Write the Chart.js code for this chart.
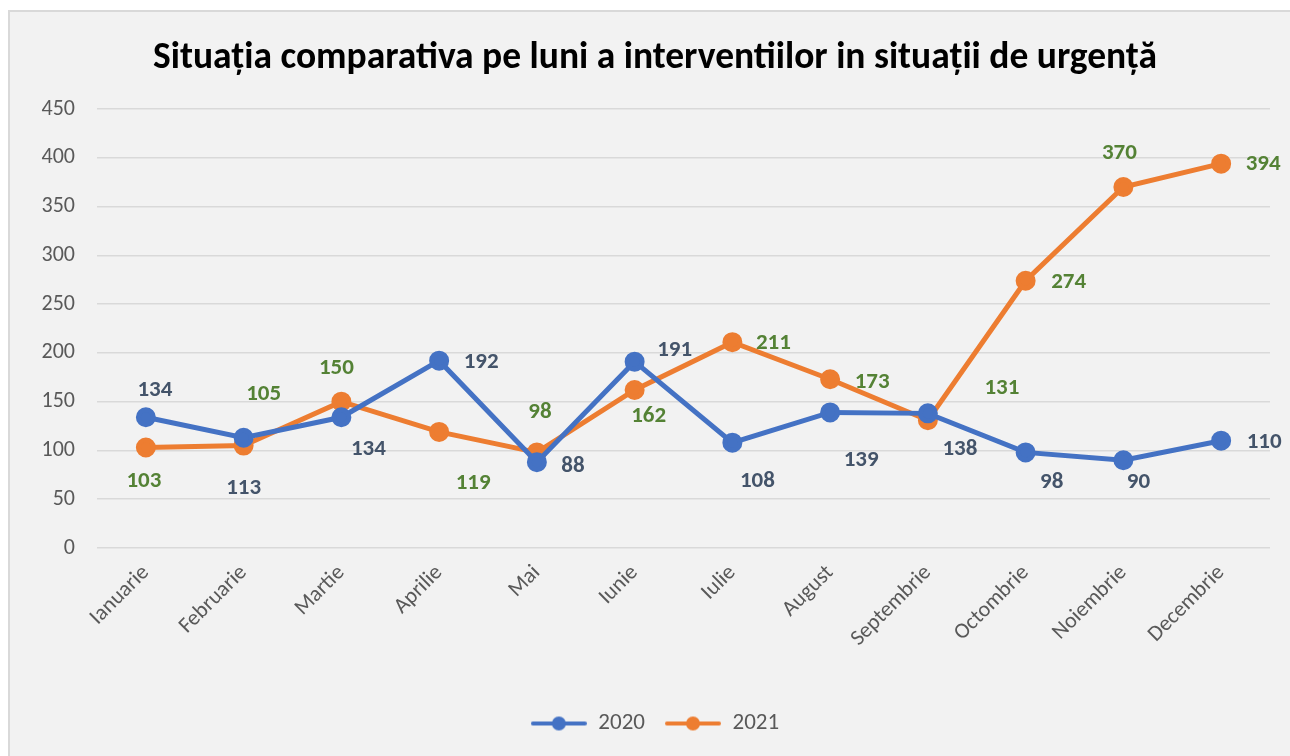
<!DOCTYPE html>
<html>
<head>
<meta charset="utf-8">
<script src="https://cdn.jsdelivr.net/npm/chart.js@4"></script>
<style>
  body { margin: 0; background: #fff; overflow: hidden; }
  #frame {
    position: absolute; left: 8px; top: 10px; width: 1290px; height: 760px;
    background: #F2F2F2; border-left: 2px solid #D9D9D9; border-top: 2px solid #D9D9D9;
  }
  #wrap { position: absolute; left: 0; top: 0; width: 1280px; height: 744px; }
</style>
</head>
<body>
<div id="frame"><div id="wrap"><canvas id="chart"></canvas></div></div>
<script>
const months = ['Ianuarie', 'Februarie', 'Martie', 'Aprilie', 'Mai', 'Iunie', 'Iulie',
                'August', 'Septembrie', 'Octombrie', 'Noiembrie', 'Decembrie'];
const values2020 = [134, 113, 134, 192, 88, 191, 108, 139, 138, 98, 90, 110];
const values2021 = [103, 105, 150, 119, 98, 162, 211, 173, 131, 274, 370, 394];

// where each value label sits relative to its point (dx, dy)
const offsets2020 = [[9,-27],[0,50],[27,32],[42,2],[36,4],[40,-11],[25,39],[31,48],[32,36],[26,30],[15,22],[43,2]];
const offsets2021 = [[-2,34],[20,-51],[-5,-33],[34,51],[3,-40],[14,26],[41,1],[42,3],[74,-32],[43,2],[-4,-34],[42,1]];

const FONT = "Carlito, Lato, 'Noto Sans', sans-serif";

function legendMarker(color)
{
    const c = document.createElement('canvas');
    c.width = 56;
    c.height = 16;
    const g = c.getContext('2d');
    g.strokeStyle = color;
    g.lineWidth = 4;
    g.lineCap = 'round';
    g.beginPath();
    g.moveTo(2, 8);
    g.lineTo(54, 8);
    g.stroke();
    g.fillStyle = color;
    g.beginPath();
    g.arc(28, 8, 7, 0, Math.PI * 2);
    g.fill();
    return c;
}

const valueLabels = {
    id: 'valueLabels',
    afterDatasetsDraw(chart) {
        const ctx = chart.ctx;
        ctx.save();
        ctx.font = 'bold 23px ' + FONT;
        ctx.textAlign = 'center';
        ctx.textBaseline = 'middle';
        chart.data.datasets.forEach((ds, i) => {
            const meta = chart.getDatasetMeta(i);
            ctx.fillStyle = ds.labelColor;
            meta.data.forEach((pt, j) => {
                const off = ds.labelOffsets[j];
                ctx.fillText(ds.data[j], pt.x + off[0], pt.y + off[1]);
            });
        });
        ctx.restore();
    }
};

const ctx = document.getElementById('chart');

new Chart(ctx, {
    type: 'line',
    data: {
        labels: months,
        datasets: [{
            label: '2020',
            data: values2020,
            borderColor: '#4472C4',
            backgroundColor: '#4472C4',
            borderWidth: 5,
            pointRadius: 7.5,
            pointHoverRadius: 7.5,
            labelColor: '#44546A',
            labelOffsets: offsets2020
        }, {
            label: '2021',
            data: values2021,
            borderColor: '#ED7D31',
            backgroundColor: '#ED7D31',
            borderWidth: 5,
            pointRadius: 7.5,
            pointHoverRadius: 7.5,
            labelColor: '#548235',
            labelOffsets: offsets2021
        }]
    },
    options: {
        responsive: true,
        maintainAspectRatio: false,
        animation: false,
        layout: { padding: { left: 30, right: 20, top: 0, bottom: 11 } },
        scales: {
            x: {
                offset: true,
                grid: { display: false, drawTicks: false },
                border: { display: false },
                ticks: {
                    minRotation: 45,
                    maxRotation: 45,
                    padding: 12,
                    color: '#595959',
                    font: { family: FONT, size: 22 }
                },
                afterFit: scale => { scale.height = 144; }
            },
            y: {
                min: 0,
                max: 450,
                grid: { color: '#D9D9D9', lineWidth: 1.5, drawTicks: false },
                border: { display: false },
                ticks: {
                    stepSize: 50,
                    padding: 22,
                    color: '#595959',
                    font: { family: FONT, size: 22 }
                },
                afterFit: scale => { scale.width = 57; }
            }
        },
        plugins: {
            title: {
                display: true,
                text: 'Situația comparativa pe luni a interventiilor in situații de urgență',
                color: '#000000',
                font: { family: FONT, size: 37.5, weight: 'bold' },
                padding: { top: 24, bottom: 28 }
            },
            legend: {
                position: 'bottom',
                labels: {
                    usePointStyle: true,
                    pointStyleWidth: 56,
                    padding: 20,
                    color: '#595959',
                    font: { family: FONT, size: 23 },
                    generateLabels: chart => {
                        const items = Chart.defaults.plugins.legend.labels.generateLabels(chart);
                        items.forEach(it => {
                            it.pointStyle = legendMarker(chart.data.datasets[it.datasetIndex].borderColor);
                        });
                        return items;
                    }
                }
            },
            tooltip: { enabled: false }
        }
    },
    plugins: [valueLabels]
});
</script>
</body>
</html>
